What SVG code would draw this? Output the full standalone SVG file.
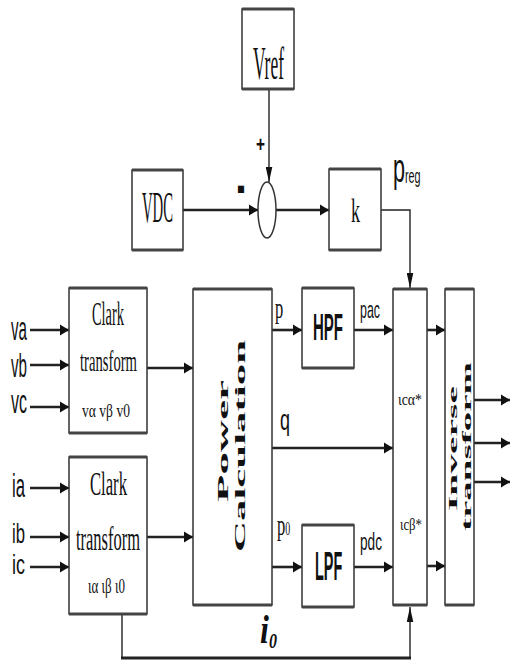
<svg xmlns="http://www.w3.org/2000/svg" width="511" height="664" viewBox="0 0 511 664">
<style>
.box{fill:#fff;stroke:#333;stroke-width:1.5}
.he{stroke:#444;stroke-width:3}
.ln{fill:none;stroke:#222}
.h{stroke-width:2.6}
.v{stroke-width:1.4}
.sf{font-family:"Liberation Serif","Times New Roman",serif;fill:#111}
.ss{font-family:"Liberation Sans",Arial,sans-serif;fill:#111}
.b{font-weight:bold}
</style>
<defs>
<marker id="ah" markerUnits="userSpaceOnUse" viewBox="0 0 10 12" refX="10" refY="6" markerWidth="9" markerHeight="13" orient="auto"><path d="M0,0 L10,6 L0,12 Z" fill="#111"/></marker>
<marker id="av" markerUnits="userSpaceOnUse" viewBox="0 0 16 7" refX="16" refY="3.5" markerWidth="15" markerHeight="7" orient="auto"><path d="M0,0 L16,3.5 L0,7 Z" fill="#111"/></marker>
</defs>

<g id="connectors">
<path class="ln v" d="M269,89 V182" marker-end="url(#av)"/>
<path class="ln h" d="M183,210 H258" marker-end="url(#ah)"/>
<path class="ln h" d="M276,210 H329" marker-end="url(#ah)"/>
<path class="ln v" d="M381,210 H410 V288" marker-end="url(#av)"/>
<path class="ln h" d="M30,330 H69" marker-end="url(#ah)"/>
<path class="ln h" d="M30,365 H69" marker-end="url(#ah)"/>
<path class="ln h" d="M30,407 H69" marker-end="url(#ah)"/>
<path class="ln h" d="M30,488 H69" marker-end="url(#ah)"/>
<path class="ln h" d="M30,537 H69" marker-end="url(#ah)"/>
<path class="ln h" d="M30,567 H69" marker-end="url(#ah)"/>
<path class="ln h" d="M147,368 H193" marker-end="url(#ah)"/>
<path class="ln h" d="M147,537 H193" marker-end="url(#ah)"/>
<path class="ln h" d="M272,330 H302" marker-end="url(#ah)"/>
<path class="ln h" d="M354,330 H393" marker-end="url(#ah)"/>
<path class="ln h" d="M272,448 H393" marker-end="url(#ah)"/>
<path class="ln h" d="M272,567 H302" marker-end="url(#ah)"/>
<path class="ln h" d="M354,567 H393" marker-end="url(#ah)"/>
<path class="ln h" d="M427,330 H445" marker-end="url(#ah)"/>
<path class="ln h" d="M427,566 H445" marker-end="url(#ah)"/>
<path class="ln h" d="M474,400 H510" marker-end="url(#ah)"/>
<path class="ln h" d="M474,443 H510" marker-end="url(#ah)"/>
<path class="ln h" d="M474,482 H510" marker-end="url(#ah)"/>
<path class="ln v" d="M122,614 V658" />
<path class="ln" stroke-width="3" d="M121,658 H411"/>
<path class="ln v" d="M410,658 V607" marker-end="url(#av)"/>
</g>

<g id="vref">
<rect class="box" x="242" y="9" width="52" height="80"/>
<path class="he" d="M242,9 H294 M242,89 H294"/>
<text class="sf" x="253" y="79" font-size="46" textLength="31" lengthAdjust="spacingAndGlyphs">Vref</text>
</g>

<g id="vdc">
<rect class="box" x="132" y="170" width="51" height="80"/>
<path class="he" d="M132,170 H183 M132,250 H183"/>
<text class="sf" x="142" y="222" font-size="45" textLength="31" lengthAdjust="spacingAndGlyphs">VDC</text>
</g>

<g id="sum">
<ellipse cx="267" cy="210" rx="9" ry="28" fill="#fff" stroke="#333" stroke-width="1.5"/>
<text class="ss b" x="256" y="152" font-size="22" textLength="9" lengthAdjust="spacingAndGlyphs">+</text>
<text class="ss b" x="237" y="205" font-size="62" textLength="8" lengthAdjust="spacingAndGlyphs">-</text>
</g>

<g id="k">
<rect class="box" x="329" y="169" width="52" height="81"/>
<path class="he" d="M329,169 H381 M329,250 H381"/>
<text class="sf" x="351" y="222" font-size="33" textLength="9" lengthAdjust="spacingAndGlyphs">k</text>
<text class="ss" transform="translate(393,182) scale(0.54,1)" font-size="40">p<tspan font-size="20" dy="1">reg</tspan></text>
</g>

<g id="clark-v">
<rect class="box" x="69" y="288" width="78" height="145"/>
<path class="he" d="M69,288 H147 M69,433 H147"/>
<text class="sf" x="92" y="325" font-size="33" textLength="32" lengthAdjust="spacingAndGlyphs">Clark</text>
<text class="sf" x="80" y="371" font-size="29" textLength="57" lengthAdjust="spacingAndGlyphs">transform</text>
<text class="sf" x="82" y="417" font-size="19" textLength="48" lengthAdjust="spacingAndGlyphs">vα vβ v0</text>
<text class="ss" x="11" y="340" font-size="34" textLength="16" lengthAdjust="spacingAndGlyphs">va</text>
<text class="ss" x="11" y="377" font-size="34" textLength="16" lengthAdjust="spacingAndGlyphs">vb</text>
<text class="ss" x="11" y="413" font-size="34" textLength="16" lengthAdjust="spacingAndGlyphs">vc</text>
</g>

<g id="clark-i">
<rect class="box" x="69" y="457" width="78" height="157"/>
<path class="he" d="M69,457 H147 M69,614 H147"/>
<text class="sf" x="90" y="495" font-size="34" textLength="37" lengthAdjust="spacingAndGlyphs">Clark</text>
<text class="sf" x="76" y="550" font-size="34" textLength="64" lengthAdjust="spacingAndGlyphs">transform</text>
<text class="sf" x="88" y="593" font-size="20" textLength="37" lengthAdjust="spacingAndGlyphs">ια ιβ ι0</text>
<text class="ss" x="12" y="497" font-size="34" textLength="13" lengthAdjust="spacingAndGlyphs">ia</text>
<text class="ss" x="12" y="543" font-size="27" textLength="13" lengthAdjust="spacingAndGlyphs">ib</text>
<text class="ss" x="12" y="574" font-size="27" textLength="13" lengthAdjust="spacingAndGlyphs">ic</text>
</g>

<g id="power">
<rect class="box" x="193" y="289" width="79" height="316"/>
<path class="he" d="M193,289 H272 M193,605 H272"/>
<text class="sf b" transform="translate(228,441) rotate(-90)" x="-61" y="0" font-size="14" textLength="122" lengthAdjust="spacingAndGlyphs">Power</text>
<text class="sf b" transform="translate(245,446) rotate(-90)" x="-106" y="0" font-size="14" textLength="212" lengthAdjust="spacingAndGlyphs">Calculation</text>
<text class="sf" transform="translate(275,318) scale(0.55,1)" font-size="30">p</text>
<text class="ss" transform="translate(280,430) scale(0.6,1)" font-size="30">q</text>
<text class="sf" transform="translate(277,535) scale(0.55,1)" font-size="30">p<tspan font-size="18">0</tspan></text>
</g>

<g id="hpf">
<rect class="box" x="302" y="288" width="52" height="80"/>
<path class="he" d="M302,288 H354 M302,368 H354"/>
<text class="ss b" transform="translate(313,340) scale(0.405,1)" font-size="37">HPF</text>
<text class="ss" transform="translate(360,318) scale(0.517,1)" font-size="24">pac</text>
</g>

<g id="lpf">
<rect class="box" x="302" y="525" width="52" height="82"/>
<path class="he" d="M302,525 H354 M302,607 H354"/>
<text class="ss b" transform="translate(315,580) scale(0.36,1)" font-size="40">LPF</text>
<text class="ss" transform="translate(360,550) scale(0.568,1)" font-size="24">pdc</text>
</g>

<g id="ref-current">
<rect class="box" x="393" y="289" width="34" height="316"/>
<path class="he" d="M393,289 H427 M393,605 H427"/>
<text class="sf" x="398" y="405" font-size="17" textLength="24" lengthAdjust="spacingAndGlyphs">ιcα*</text>
<text class="sf" x="400" y="530" font-size="17" textLength="22" lengthAdjust="spacingAndGlyphs">ιcβ*</text>
</g>

<g id="inverse">
<rect class="box" x="445" y="289" width="29" height="316"/>
<path class="he" d="M445,289 H474 M445,605 H474"/>
<text class="sf b" transform="translate(457,449) rotate(-90)" x="-62" y="0" font-size="11.5" textLength="125" lengthAdjust="spacingAndGlyphs">Inverse</text>
<text class="sf b" transform="translate(471,447) rotate(-90)" x="-84" y="0" font-size="11.5" textLength="169" lengthAdjust="spacingAndGlyphs">transform</text>
</g>

<g id="i0-label">
<text class="sf b" font-style="italic" transform="translate(260,643) scale(0.8,1)" font-size="40">i<tspan font-size="20" dy="5">0</tspan></text>
</g>
</svg>
